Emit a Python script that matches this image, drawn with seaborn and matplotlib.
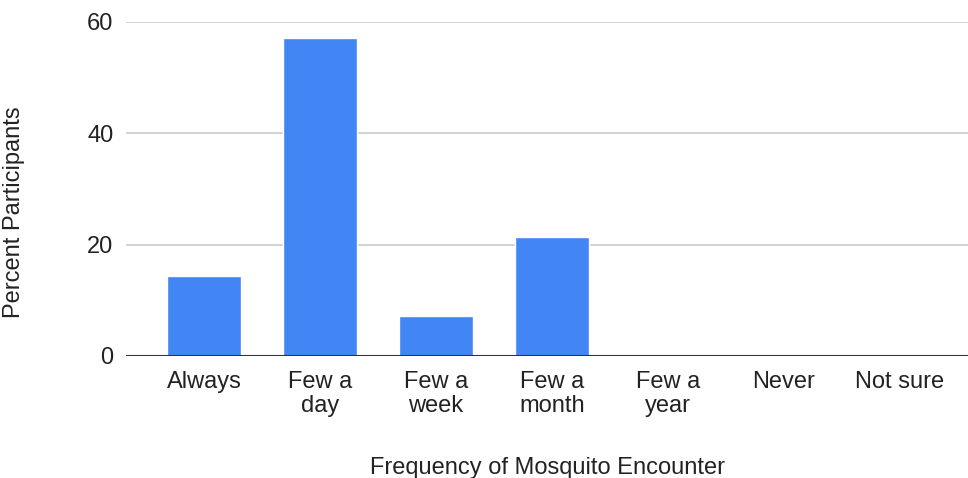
import matplotlib
matplotlib.use("Agg")
import matplotlib.pyplot as plt
import seaborn as sns
import pandas as pd

# --- data ---
categories = ["Always", "Few a\nday", "Few a\nweek", "Few a\nmonth", "Few a\nyear", "Never", "Not sure"]
percent = [14.29, 57.14, 7.14, 21.43, 0, 0, 0]
y_ticks = [0, 20, 40, 60]

df = pd.DataFrame({"frequency": categories, "percent": percent})

sns.set_style("white")
plt.rcParams['font.family'] = ['Liberation Sans', 'DejaVu Sans']

fig = plt.figure(figsize=(9.68, 4.78), dpi=100)
ax = fig.add_axes([126 / 968, 1 - 356 / 478, 842 / 968, 334 / 478])

sns.barplot(data=df, x="frequency", y="percent", color="#4285F4",
            saturation=1, width=0.646, ax=ax, zorder=3)

ax.set_ylim(0, 60)
ax.set_yticks(y_ticks)
ax.set_xlim(-0.5 - 20 / 116, 6.5 + 10 / 116)
ax.yaxis.grid(True, color="#cccccc", linewidth=1.2, zorder=0)
ax.axhline(0, color="#333333", linewidth=1.5, zorder=4)

for s in ax.spines.values():
    s.set_visible(False)

fs = 17
ax.tick_params(axis="y", length=0, pad=9, labelsize=fs, labelcolor="#222222")
ax.tick_params(axis="x", length=0, pad=11, labelsize=fs, labelcolor="#222222")
for lbl in ax.get_xticklabels():
    lbl.set_linespacing(1.1)

ax.set_xlabel("Frequency of Mosquito Encounter", fontsize=fs, color="#222222", labelpad=29)
ax.set_ylabel("Percent Participants", fontsize=fs, color="#222222")
ax.yaxis.set_label_coords(-0.12, 0.431)

plt.savefig("out.png", dpi=100)
plt.close()
